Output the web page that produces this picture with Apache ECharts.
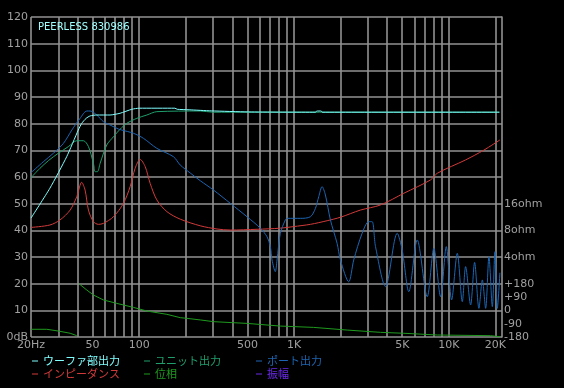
<!DOCTYPE html>
<html><head><meta charset="utf-8">
<script src="https://cdn.jsdelivr.net/npm/echarts@6.0.0/dist/echarts.min.js"></script>
<style>html,body{margin:0;padding:0;background:#000}#c{width:564px;height:388px}</style>
</head><body><div id="c"></div>
<script>
// ---- data ----
const wooferFreq = [20, 26.5, 34, 40.4, 42.5, 45.4, 48.2, 53.2, 64.8, 75.2, 89.6, 100, 170, 176, 210, 292, 507, 1380, 1400, 1500, 1520, 21200];
const wooferDb   = [44.6, 55.8, 67.6, 77.6, 80.1, 82, 82.9, 83.25, 83.25, 83.9, 85.4, 85.8, 85.8, 85.4, 85.2, 84.8, 84.4, 84.3, 84.75, 84.75, 84.3, 84.3];

const unitFreq = [20, 22.8, 26, 30, 34.9, 39.5, 43.6, 47, 50.6, 51.9, 53.7, 55.9, 61.7, 68.2, 75.2, 83, 96.5, 112, 130, 248, 300, 507, 21200];
const unitDb   = [59.75, 63.2, 66.2, 68.9, 71.4, 73.6, 73.6, 71.4, 65.1, 62, 62, 65.1, 72, 75.1, 77.9, 80.1, 82, 83.25, 84.5, 84.75, 84.3, 84.3, 84.3];

const portFreq = [20, 24, 27.9, 32.4, 36.7, 41.5, 45.9, 48.2, 53.2, 58.7, 64.8, 73.4, 77.2, 91.8, 106.5, 130, 166.5, 184, 213.6, 248, 302, 388, 497, 606, 669, 703, 721, 757, 777, 816, 879, 902, 1099, 1276, 1374, 1444, 1518, 1595, 1718, 1898, 1994, 2256, 2431, 2754, 3040, 3196, 3360, 3898, 4640, 4998, 5514, 6250, 7252, 8004, 8844, 9628, 10420, 11340, 12216, 12834, 13826, 14672, 15640, 16460, 17286, 18156, 19100, 19854, 20574, 21380];
const portDb   = [61.6, 65.7, 68.9, 72.6, 77.6, 82, 84.75, 84.75, 83.25, 80.75, 79.5, 78, 77.6, 76.4, 74.5, 70.75, 67.6, 64.5, 61.5, 58.6, 55.1, 50.1, 45.1, 40.8, 37.6, 33.9, 28.9, 24.5, 28.9, 38.9, 43.9, 44.5, 44.5, 45.1, 48.2, 52.6, 56.4, 53.25, 43.9, 35.1, 28.9, 20.7, 28.9, 38.9, 43.25, 43.25, 33.9, 18.9, 38.9, 32.6, 17, 36.4, 15.1, 33.25, 15.1, 33.9, 13.9, 31.4, 13.25, 26.4, 12, 28, 10.75, 21.4, 10.75, 30.1, 11.4, 32, 10.75, 24.1];

const impFreq = [20, 26.5, 30.8, 35.8, 39.5, 42.5, 44.7, 47, 50.6, 54.5, 58.7, 68.2, 79.1, 87.4, 94.1, 101.4, 109.3, 117.7, 130, 151, 184, 248, 318, 388, 577, 816, 995, 1276, 1636, 1994, 2686, 3618, 5120, 7618, 8420, 12834, 16854, 21380];
const impOhm  = [8.63, 9.19, 10.48, 13.55, 19.16, 27.86, 22.8, 13.55, 10.02, 9.35, 9.58, 11.39, 16.11, 24.93, 40.1, 50.6, 41.9, 27.1, 17.63, 13, 10.7, 9.0, 8.28, 8.06, 8.22, 8.46, 8.82, 9.35, 10.27, 11.24, 13.55, 15.46, 20.97, 29.65, 35.26, 49.9, 64.4, 83.9];

const phaseFreq = [20, 25.3, 30, 35.8, 39.5, 40.2, 40.9, 45.9, 50.6, 58.7, 71.7, 91.8, 112, 151, 184, 203, 248, 302, 497, 816, 1340, 2204, 3618, 5120, 8420, 18620, 21400];
const phaseDeg  = [-128, -128, -139.5, -154.8, -171, null, 179, 136.8, 103.5, 70.2, 46.8, 19.8, -4.5, -27, -49.5, -54, -64.8, -76.5, -88.2, -106.2, -115.2, -133.2, -148.5, -154.8, -166.5, -171, -178];

// ---- ticks / labels ----
const gridFreqs = [20, 30, 40, 50, 60, 70, 80, 90, 100, 200, 300, 400, 500, 600, 700, 800, 900, 1000, 2000, 3000, 4000, 5000, 6000, 7000, 8000, 9000, 10000, 20000];
const xLabelFreqs = [20, 50, 100, 500, 1000, 5000, 10000, 20000];
const xLabelTexts = ['20Hz', '50', '100', '500', '1K', '5K', '10K', '20K'];
const impLabelVals = [4, 8, 16];
const impLabelTexts = ['4ohm', '8ohm', '16ohm'];
const phaseLabelVals = [-180, -90, 0, 90, 180];
const phaseLabelTexts = ['-180', '-90', '0', '+90', '+180'];
const freqMin = 20, freqMax = 22050;
const ohmMin = 0.5, ohmMax = 2048;

const names = {woofer: 'ウーファ部出力', unit: 'ユニット出力', port: 'ポート出力', imp: 'インピーダンス', phase: '位相', amp: '振幅'};
const colors = {woofer: '#80ffff', unit: '#1f9f6c', port: '#1d65b2', imp: '#d23a3a', phase: '#1f9a1f', amp: '#6a2ae8'};

const lg = Math.log10;
const pts = (fs, vs, tf) => fs.map((f, i) => [lg(f), vs[i] === null ? '-' : (tf ? tf(vs[i]) : vs[i])]);

const labelFont = {color: '#a0a0a0', fontSize: 11, fontFamily: 'DejaVu Sans'};
const legendFont = {fontSize: 11, fontFamily: 'Noto Sans CJK JP', lineHeight: 12};
const gridLine = {color: '#929292', width: 1.6};

function lineSeries(key, data, yAxisIndex, smooth) {
  return {name: names[key], type: 'line', data: data, yAxisIndex: yAxisIndex, smooth: smooth,
    symbol: 'none', showSymbol: false, lineStyle: {width: 1, color: colors[key]}, itemStyle: {color: colors[key]},
    emphasis: {disabled: true}, silent: true};
}
function legendAt(left, keys) {
  return {orient: 'vertical', left: left, top: 355, itemGap: 1, padding: 0, icon: 'rect', itemWidth: 6, itemHeight: 1,
    textStyle: legendFont, selectedMode: false,
    data: keys.map(k => ({name: names[k], textStyle: {color: colors[k]}}))};
}

const chart = echarts.init(document.getElementById('c'), null, {renderer: 'canvas'});
chart.setOption({
  backgroundColor: '#000',
  animation: false,
  title: {text: 'PEERLESS 830986', left: 38, top: 22, padding: 0,
    textStyle: {color: '#a0ffff', fontSize: 10, fontWeight: 'normal', fontFamily: 'DejaVu Sans'}},
  grid: {left: 31, right: 62, top: 17, bottom: 51, containLabel: false},
  legend: [legendAt(32, ['woofer', 'imp']), legendAt(144, ['unit', 'phase']), legendAt(256, ['port', 'amp'])],
  xAxis: {
    type: 'value', min: lg(freqMin), max: lg(freqMax),
    axisLine: {show: false},
    axisTick: {show: false, customValues: gridFreqs.map(lg)},
    splitLine: {show: true, lineStyle: gridLine},
    axisLabel: Object.assign({customValues: xLabelFreqs.map(lg), margin: 3,
      formatter: v => { const i = xLabelFreqs.indexOf(Math.round(Math.pow(10, v))); return i >= 0 ? xLabelTexts[i] : ''; }}, labelFont)
  },
  yAxis: [
    {type: 'value', position: 'left', min: 0, max: 120, interval: 10,
      axisLine: {show: false}, axisTick: {show: false},
      splitLine: {show: true, lineStyle: gridLine},
      axisLabel: Object.assign({margin: 3, formatter: v => v === 0 ? '0dB' : String(v)}, labelFont)},
    {type: 'value', position: 'right', min: -180, max: 1980, interval: 90,
      axisLine: {show: true, lineStyle: gridLine}, axisTick: {show: false}, splitLine: {show: false},
      axisLabel: Object.assign({margin: 2, formatter: v => { const i = phaseLabelVals.indexOf(Math.round(v)); return i >= 0 ? phaseLabelTexts[i] : ''; }}, labelFont)},
    {type: 'value', position: 'right', min: Math.log2(ohmMin), max: Math.log2(ohmMax), interval: 1,
      axisLine: {show: false}, axisTick: {show: false}, splitLine: {show: false},
      axisLabel: Object.assign({margin: 2, formatter: v => { const i = impLabelVals.indexOf(Math.round(Math.pow(2, v))); return i >= 0 ? impLabelTexts[i] : ''; }}, labelFont)}
  ],
  series: [
    lineSeries('phase', pts(phaseFreq, phaseDeg), 1, false),
    lineSeries('imp', pts(impFreq, impOhm, Math.log2), 2, 0.3),
    lineSeries('unit', pts(unitFreq, unitDb), 0, 0.3),
    lineSeries('port', pts(portFreq, portDb), 0, 0.3),
    lineSeries('woofer', pts(wooferFreq, wooferDb), 0, 0.2),
    lineSeries('amp', [], 0, false)
  ]
});
</script></body></html>
